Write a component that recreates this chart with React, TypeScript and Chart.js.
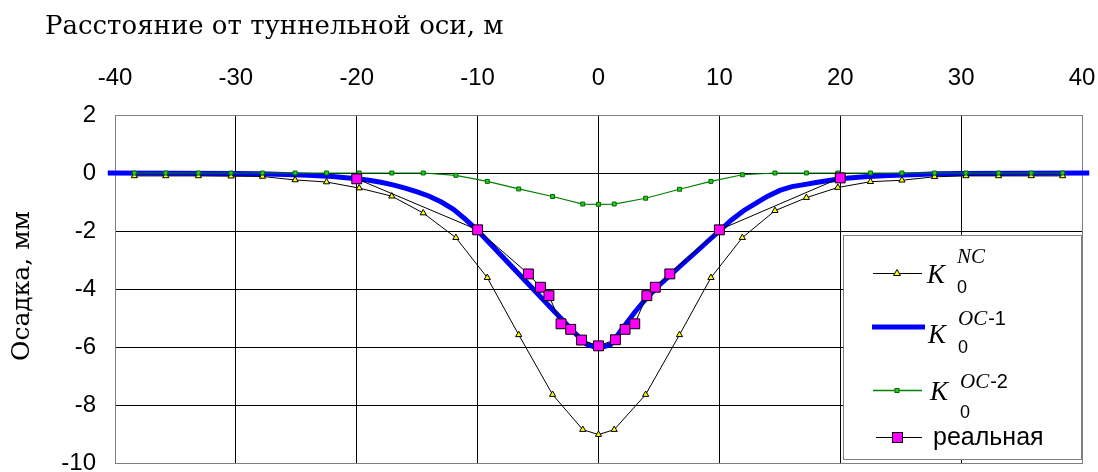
import React, { useEffect, useRef } from 'react';
import { Chart, registerables } from 'chart.js';

Chart.register(...registerables);

// ---- data ----
const xTickValues = [-40, -30, -20, -10, 0, 10, 20, 30, 40];
const yTickValues = [2, 0, -2, -4, -6, -8, -10];

const ncX = [-38.4, -35.8, -33.1, -30.4, -27.8, -25.1, -22.5, -19.8, -17.1, -14.5, -11.8, -9.2, -6.6, -3.8, -1.3, 0, 1.3, 3.9, 6.7, 9.3, 11.9, 14.6, 17.2, 19.8, 22.5, 25.1, 27.8, 30.4, 33.1, 35.8, 38.4];
const ncY = [-0.1, -0.1, -0.1, -0.11, -0.12, -0.24, -0.31, -0.52, -0.8, -1.38, -2.23, -3.61, -5.58, -7.64, -8.85, -9.02, -8.85, -7.64, -5.58, -3.61, -2.23, -1.3, -0.85, -0.5, -0.3, -0.25, -0.13, -0.1, -0.1, -0.1, -0.1];

const oc1X = [-40.6, -35, -30, -28, -26, -24, -22, -20, -19, -18, -17, -16, -15, -14, -13, -12, -11, -10, -9, -8, -7, -6, -5, -4, -3, -2, -1, 0, 1, 2, 3, 4, 5, 6, 7, 8, 9, 10, 11, 12, 13, 14, 15, 16, 17, 18, 20, 22, 24, 26, 28, 30, 35, 40.6];
const oc1Y = [0, -0.01, -0.02, -0.03, -0.05, -0.08, -0.12, -0.2, -0.25, -0.32, -0.41, -0.52, -0.65, -0.8, -1.0, -1.25, -1.6, -1.98, -2.42, -2.86, -3.3, -3.74, -4.18, -4.62, -5.06, -5.5, -5.9, -6.05, -5.92, -5.35, -4.8, -4.3, -3.88, -3.5, -3.12, -2.75, -2.37, -2.0, -1.62, -1.3, -1.05, -0.8, -0.6, -0.47, -0.4, -0.33, -0.2, -0.13, -0.09, -0.06, -0.03, -0.02, -0.01, 0];

const oc2X = ncX;
const oc2Y = [0, 0, 0, 0, 0, 0, 0, 0, 0, 0, -0.08, -0.29, -0.55, -0.81, -1.07, -1.08, -1.07, -0.87, -0.56, -0.29, -0.06, 0, 0, 0, 0, 0, 0, 0, 0, 0, 0];

const realX = [-20, -10, -5.8, -4.8, -4.1, -3.1, -2.3, -1.4, 0, 1.4, 2.2, 3.0, 4.0, 4.7, 5.9, 10, 20];
const realY = [-0.2, -1.96, -3.48, -3.94, -4.23, -5.2, -5.39, -5.76, -5.96, -5.75, -5.39, -5.2, -4.23, -3.94, -3.48, -1.96, -0.17];

const titleText = 'Расстояние от туннельной оси, м';
const yTitleText = 'Осадка, мм';
const legendLabels = ['K', 'K', 'K', 'реальная'];
const legendSup = ['NC', 'OC', 'OC'];
const legendSupSuffix = ['', '-1', '-2'];
const legendSub = '0';

const toPoints = (xs: number[], ys: number[]) => xs.map((x, i) => ({ x, y: ys[i] }));

const SERIF = '"DejaVu Serif", serif';
const SANS = '"Liberation Sans", Arial, sans-serif';
const ISERIF = '"Liberation Serif", "Times New Roman", serif';

const decorPlugin = {
  id: 'decor',
  beforeDatasetsDraw(chart: any) {
    const { ctx, chartArea } = chart;
    ctx.save();
    ctx.strokeStyle = '#808080';
    ctx.lineWidth = 1;
    ctx.strokeRect(chartArea.left + 0.5, chartArea.top + 0.5, chartArea.right - chartArea.left, chartArea.bottom - chartArea.top);
    ctx.restore();
  },
  afterDraw(chart: any) {
    const { ctx, chartArea } = chart;
    ctx.save();
    ctx.fillStyle = '#000';
    ctx.font = `26px ${SERIF}`;
    ctx.textAlign = 'left';
    ctx.textBaseline = 'alphabetic';
    ctx.fillText(titleText, 45, 34);

    ctx.save();
    ctx.translate(29, (chartArea.top + chartArea.bottom) / 2 - 3);
    ctx.rotate(-Math.PI / 2);
    ctx.textAlign = 'center';
    ctx.textBaseline = 'alphabetic';
    ctx.font = `25px ${SERIF}`;
    ctx.fillText(yTitleText, 0, 0);
    ctx.restore();

    // legend box
    ctx.fillStyle = '#ffffff';
    ctx.fillRect(843, 235, 239, 225);
    ctx.strokeStyle = '#808080';
    ctx.lineWidth = 1;
    ctx.strokeRect(843.5, 235.5, 238, 224);

    const line = (x1: number, x2: number, y: number, color: string, w: number) => {
      ctx.beginPath();
      ctx.strokeStyle = color;
      ctx.lineWidth = w;
      ctx.moveTo(x1, y);
      ctx.lineTo(x2, y);
      ctx.stroke();
    };
    const kLabel = (i: number, x: number, base: number, supBase: number, subBase: number) => {
      ctx.fillStyle = '#000';
      ctx.textAlign = 'left';
      ctx.textBaseline = 'alphabetic';
      ctx.font = `italic 27px ${ISERIF}`;
      ctx.fillText(legendLabels[i], x, base);
      const sx = x + 30;
      ctx.font = `italic 21px ${ISERIF}`;
      ctx.fillText(legendSup[i], sx, supBase);
      const w = ctx.measureText(legendSup[i]).width;
      if (legendSupSuffix[i]) {
        ctx.font = `20px ${SANS}`;
        ctx.fillText(legendSupSuffix[i], sx + w + 1, supBase);
      }
      ctx.font = `18px ${SANS}`;
      ctx.fillText(legendSub, sx, subBase);
    };

    line(873, 922, 273.5, '#000', 1);
    ctx.beginPath();
    ctx.moveTo(897, 269.5);
    ctx.lineTo(900.5, 275.5);
    ctx.lineTo(893.5, 275.5);
    ctx.closePath();
    ctx.fillStyle = '#ffff00';
    ctx.fill();
    ctx.strokeStyle = '#000';
    ctx.lineWidth = 1;
    ctx.stroke();
    kLabel(0, 927, 283, 263, 293);

    line(872, 925, 327, '#0000ff', 5);
    kLabel(1, 928, 343, 325, 353);

    line(873, 922, 390.5, '#008000', 1.5);
    ctx.fillStyle = '#22cc22';
    ctx.fillRect(895, 388.5, 4, 4);
    ctx.strokeStyle = '#006600';
    ctx.lineWidth = 1;
    ctx.strokeRect(895, 388.5, 4, 4);
    kLabel(2, 930, 400, 388, 418);

    line(876, 922, 437.5, '#000', 1);
    ctx.fillStyle = '#ff00ff';
    ctx.fillRect(892.5, 432.5, 10, 10);
    ctx.strokeStyle = '#000';
    ctx.strokeRect(892.5, 432.5, 10, 10);
    ctx.fillStyle = '#000';
    ctx.font = `25px ${SANS}`;
    ctx.textBaseline = 'middle';
    ctx.fillText(legendLabels[3], 933, 438);
    ctx.restore();
  },
};

export default function App() {
  const canvasRef = useRef<HTMLCanvasElement | null>(null);

  useEffect(() => {
    const canvas = canvasRef.current;
    if (!canvas) return;
    const chart = new Chart(canvas, {
      type: 'line',
      data: {
        datasets: [
          {
            label: 'реальная',
            data: toPoints(realX, realY),
            borderColor: '#000000',
            borderWidth: 1,
            backgroundColor: '#ff00ff',
            pointStyle: 'rect',
            pointRadius: 7,
            pointBorderColor: '#000000',
            pointBorderWidth: 1,
            tension: 0,
            order: 0,
          },
          {
            label: 'K0 OC-2',
            data: toPoints(oc2X, oc2Y),
            borderColor: '#008000',
            borderWidth: 1.2,
            backgroundColor: '#22cc22',
            pointStyle: 'rect',
            pointRadius: 2.8,
            pointBorderColor: '#006600',
            pointBorderWidth: 1,
            tension: 0,
            order: 1,
          },
          {
            label: 'K0 NC',
            data: toPoints(ncX, ncY),
            borderColor: '#000000',
            borderWidth: 1,
            backgroundColor: '#ffff00',
            pointStyle: 'triangle',
            pointRadius: 3.6,
            pointBorderColor: '#000000',
            pointBorderWidth: 1,
            tension: 0,
            order: 2,
          },
          {
            label: 'K0 OC-1',
            data: toPoints(oc1X, oc1Y),
            borderColor: '#0000ff',
            borderWidth: 5,
            pointRadius: 0,
            tension: 0,
            clip: false as any,
            order: 3,
          },
        ],
      },
      options: {
        animation: false,
        responsive: false,
        devicePixelRatio: 1,
        layout: { padding: { top: 0, left: 0, right: 16, bottom: 9 } },
        plugins: {
          legend: { display: false },
          tooltip: { enabled: false },
          title: { display: false },
        },
        scales: {
          x: {
            type: 'linear',
            position: 'top',
            min: -40,
            max: 40,
            afterBuildTicks: (scale: any) => {
              scale.ticks = xTickValues.map((v) => ({ value: v }));
            },
            afterFit: (scale: any) => {
              scale.height = 115;
              scale.paddingLeft = 0;
              scale.paddingRight = 0;
              scale.paddingTop = 0;
              scale.paddingBottom = 0;
            },
            ticks: {
              color: '#000',
              font: { family: SANS, size: 24 },
              padding: 22,
              maxRotation: 0,
              autoSkip: false,
              callback: (v: any) => String(v),
            },
            grid: {
              drawTicks: false,
              color: (c: any) => (c.tick && (c.tick.value === -40 || c.tick.value === 40) ? 'rgba(0,0,0,0)' : '#000000'),
              lineWidth: 1,
            },
            border: { display: false },
          },
          y: {
            type: 'linear',
            min: -10,
            max: 2,
            afterBuildTicks: (scale: any) => {
              scale.ticks = yTickValues.map((v) => ({ value: v }));
            },
            afterFit: (scale: any) => {
              scale.width = 115;
              scale.paddingLeft = 0;
              scale.paddingRight = 0;
              scale.paddingTop = 0;
              scale.paddingBottom = 0;
            },
            ticks: {
              color: '#000',
              font: { family: SANS, size: 24 },
              padding: 19,
              autoSkip: false,
              callback: (v: any) => String(v),
            },
            grid: {
              drawTicks: false,
              color: (c: any) => (c.tick && (c.tick.value === 2 || c.tick.value === -10) ? 'rgba(0,0,0,0)' : '#000000'),
              lineWidth: 1,
            },
            border: { display: false },
          },
        },
      },
      plugins: [decorPlugin],
    } as any);
    return () => chart.destroy();
  }, []);

  return (
    <div style={{ position: 'fixed', left: 0, top: 0, width: 1098, height: 472, background: '#fff' }}>
      <canvas ref={canvasRef} width={1098} height={472} style={{ display: 'block', width: 1098, height: 472 }} />
    </div>
  );
}
